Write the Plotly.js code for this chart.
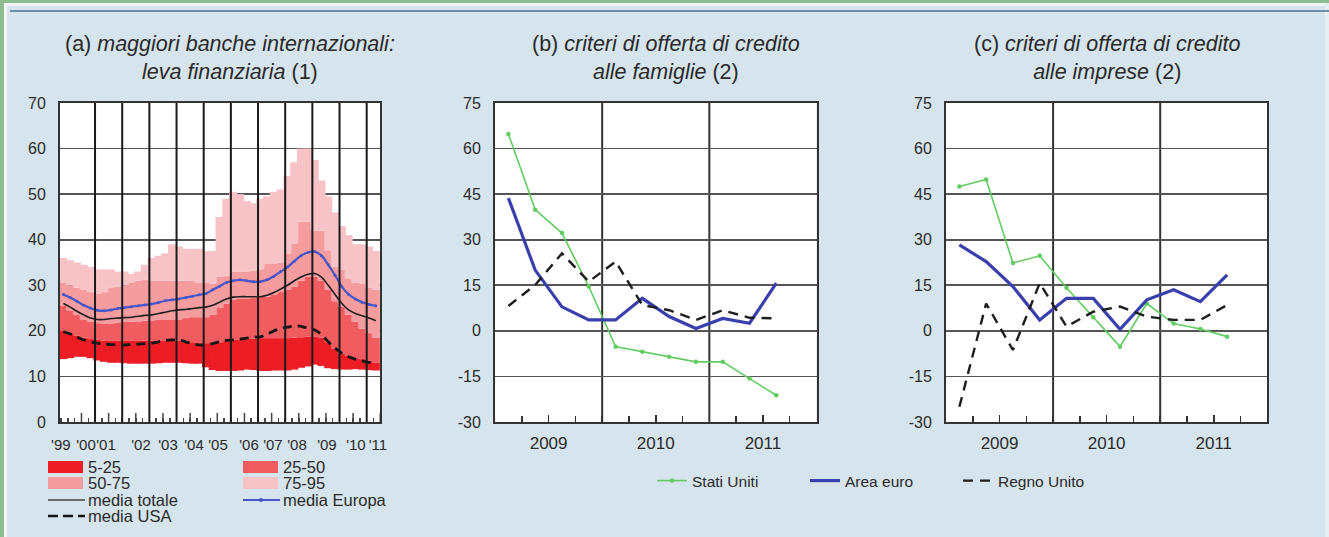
<!DOCTYPE html>
<html>
<head>
<meta charset="utf-8">
<script src="https://cdn.plot.ly/plotly-3.0.1.min.js"></script>
<style>
html,body{margin:0;padding:0;background:#d5e4ed;}
#chart{width:1329px;height:537px;}
</style>
</head>
<body>
<div id="chart"></div>
<script>
// ---------------- Panel (a): leva finanziaria, dati trimestrali ----------------
const etichetteAnni = ["'99","'00","'01","'02","'03","'04","'05","'06","'07","'08","'09","'10","'11"];
const perc5  = [13.8, 14,14.3,14.3,14, 13.5,13.2,13,13, 12.9,12.8,12.8,12.8, 12.8,12.9,13,13, 13,12.9,12.8,12.8, 12,11.4,11.2,11.2, 11.2,11.3,11.5,11.4, 11.2,11.2,11.3,11.3, 11.3,11.5,11.9,12.2, 12.6,12.3,11.8,11.6, 11.5,11.5,11.6,11.5, 11.4,11.3];
const perc25 = [20, 19.5,19,18.5,18.2, 18,17.8,17.8,17.8, 17.8,17.8,17.8,17.8, 17.8,17.8,17.8,17.8, 17.8,17.5,17.5,17.3, 17.3,17.3,17.5,17.8, 18,18,18.2,18.3, 18.4,18.4,18.4,18.4, 18.4,18.5,18.6,18.7, 18.7,18.5,17.5,16, 15,14.5,14,13.8, 13.5,13];
const perc50 = [25.5, 24.5,23.5,22.5,22, 21.7,21.5,21.5,21.8, 22,22,22,22.2, 22.3,22.5,22.5,22.5, 22.5,22.8,23,23, 23,23.5,25,26, 26.8,27,27,27.2, 27.5,27.5,28,28.5, 29,29.7,31,31.9, 31.9,31,29,26.5, 25.3,23.5,22,20.5, 19.5,18.5];
const perc75 = [30.5, 30,29.5,29,28.5, 28.2,28.5,29.5,29.7, 30,30.5,31,31.2, 31,31,31,31, 31,31,31,30.5, 30.5,30.4,31.9,32, 33,33,33,33.2, 33.5,34.8,34.8,35, 37,39.2,44,44, 42,42,37.7,34, 33.4,31.5,30.5,30.4, 29.5,29];
const perc95 = [36, 35.5,35,34.5,34, 33.5,33.5,33.5,33, 33,32.5,33,34.5, 36,36.5,37,39, 38.5,38,38,38, 37.5,37.5,45,49, 50.5,50,48.5,48, 49,49.5,50.5,51, 54,57,60,60, 57.5,53,49.5,46, 43,41,39,39, 38.5,37.5];
const mediaTotale = [26, 25.2,24.3,23.5,22.8, 22.5,22.5,22.7,22.8, 22.9,23,23.2,23.4, 23.5,23.8,24.1,24.4, 24.6,24.7,24.9,25.1, 25.2,25.6,26.3,27, 27.4,27.5,27.5,27.5, 27.5,27.8,28.4,29.2, 30,31,31.8,32.4, 32.6,31.8,30,28, 26,24.6,23.8,23.3, 22.8,22.2];
const mediaEuropa = [28, 27.3,26.5,25.6,25, 24.5,24.4,24.6,24.9, 25.1,25.3,25.5,25.7, 25.9,26.2,26.6,26.8, 27,27.3,27.6,27.9, 28.2,29,29.8,30.6, 31,31.2,31,30.8, 30.8,31.2,32,33, 34,35.3,36.5,37.2, 37.4,36.5,34.5,32.2, 29.7,28,27,26.3, 25.8,25.5];
const mediaUSA = [19.8, 19.3,18.6,18,17.6, 17.3,17.1,17,16.9, 16.9,17,17.1,17.2, 17.3,17.6,17.9,18, 18,17.6,17.2,16.9, 16.9,17.2,17.6,17.9, 18,18.2,18.4,18.6, 18.7,19.3,20,20.6, 20.8,21.1,21,20.6, 20.2,19.2,17.6,16.2, 15.1,14.3,13.8,13.4, 13.1,12.6];

// ---------------- Panels (b) and (c): criteri di offerta ----------------
const trimestri = ['2009 T1','2009 T2','2009 T3','2009 T4','2010 T1','2010 T2','2010 T3','2010 T4','2011 T1','2011 T2','2011 T3'];
const anniBC = ['2009','2010','2011'];
const famStatiUniti = [64.8, 39.9, 32.2, 14.6, -5.2, -6.9, -8.5, -10.2, -10.2, -15.7, -21.2];
const famAreaEuro   = [43.7, 20, 7.9, 3.6, 3.6, 10.7, 4.7, 0.8, 4.1, 2.5, 15.7];
const famRegnoUnito = [8.2, 15.1, 25.5, 16.2, 22.8, 8.5, 6.8, 3.6, 6.8, 4.3, 4.1];
const impStatiUniti = [47.5, 49.8, 22.3, 24.7, 14.2, 4.5, -5.2, 9.0, 2.4, 0.6, -1.9];
const impAreaEuro   = [28.3, 22.8, 14.6, 3.6, 10.7, 10.7, 0.5, 10.2, 13.5, 9.6, 18.4];
const impRegnoUnito = [-25, 9.0, -6.3, 15.7, 1.4, 6.3, 8.0, 4.7, 3.6, 3.6, 8.5];

// ---------------- layout helpers ----------------
const W = 1329, H = 537;
const px = v => v / W;           // pixel -> paper x
const py = v => 1 - v / H;       // pixel -> paper y
const FONT = 'Liberation Sans, Arial, sans-serif';
const TXT = '#2b2b2b';

// Panel (a) time positions (quarter centres on a year scale)
const xa = perc5.map((_, i) => 1998.835 + 0.25 * i);
const rangeA = [1998.71, 2010.49];
const posEtichetteA = [1998.74, 1999.667, 2000.403, 2001.691, 2002.685, 2003.642, 2004.525, 2005.666, 2006.549, 2007.433, 2008.537, 2009.604, 2010.414];
// Panels (b)/(c) quarter centres
const xq = trimestri.map(t => parseInt(t.slice(0,4)) + (parseInt(t.slice(6)) - 0.5) / 4);

const colBand = {b1:'#ec1d25', b2:'#f05c60', b3:'#f59c9f', b4:'#f8c3c6'};

function banda(nome, low, high, colore) {
  return {type:'bar', name:nome, x:xa, base:low, y:high.map((v,i)=>+(v-low[i]).toFixed(2)),
    width:0.3, marker:{color:colore, line:{width:0}}, xaxis:'x', yaxis:'y',
    showlegend:false, hoverinfo:'skip'};
}

const traces = [
  banda('5-25', perc5, perc25, colBand.b1),
  banda('25-50', perc25, perc50, colBand.b2),
  banda('50-75', perc50, perc75, colBand.b3),
  banda('75-95', perc75, perc95, colBand.b4),
  {type:'scatter', mode:'lines', name:'media totale', x:xa, y:mediaTotale, xaxis:'x', yaxis:'y',
   line:{color:'#1e1e1e', width:1.6, shape:'spline', smoothing:1}, showlegend:false},
  {type:'scatter', mode:'lines+markers', name:'media Europa', x:xa, y:mediaEuropa, xaxis:'x', yaxis:'y',
   line:{color:'#4656c8', width:2.2, shape:'spline', smoothing:1}, marker:{size:3, color:'#4656c8'}, showlegend:false},
  {type:'scatter', mode:'lines', name:'media USA', x:xa, y:mediaUSA, xaxis:'x', yaxis:'y',
   line:{color:'#151515', width:2.8, dash:'9px,6px', shape:'spline', smoothing:1}, showlegend:false},
  // panel b
  {type:'scatter', mode:'lines+markers', name:'Stati Uniti', legendgroup:'us', x:xq, y:famStatiUniti, xaxis:'x3', yaxis:'y3',
   line:{color:'#62cc62', width:1.6}, marker:{size:4.5, color:'#62cc62'}},
  {type:'scatter', mode:'lines', name:'Area euro', legendgroup:'ea', x:xq, y:famAreaEuro, xaxis:'x3', yaxis:'y3',
   line:{color:'#3a3fae', width:3.2}},
  {type:'scatter', mode:'lines', name:'Regno Unito', legendgroup:'uk', x:xq, y:famRegnoUnito, xaxis:'x3', yaxis:'y3',
   line:{color:'#1e1e1e', width:2.4, dash:'10px,7px'}},
  // panel c
  {type:'scatter', mode:'lines+markers', name:'Stati Uniti', legendgroup:'us', showlegend:false, x:xq, y:impStatiUniti, xaxis:'x4', yaxis:'y5',
   line:{color:'#62cc62', width:1.6}, marker:{size:4.5, color:'#62cc62'}},
  {type:'scatter', mode:'lines', name:'Area euro', legendgroup:'ea', showlegend:false, x:xq, y:impAreaEuro, xaxis:'x4', yaxis:'y5',
   line:{color:'#3a3fae', width:3.2}},
  {type:'scatter', mode:'lines', name:'Regno Unito', legendgroup:'uk', showlegend:false, x:xq, y:impRegnoUnito, xaxis:'x4', yaxis:'y5',
   line:{color:'#1e1e1e', width:2.4, dash:'10px,7px'}}
];

const yDom = [py(422), py(103)];
const tickFontY = {family:FONT, size:16, color:TXT};
// tick values with a plain hyphen as minus sign
function tickSet(range, dtick) {
  const v = [];
  for (let t = range[0]; t <= range[1] + 1e-9; t += dtick) v.push(t);
  return {tickmode:'array', tickvals:v, ticktext:v.map(t => String(t))};
}

function yLeft(range, dtick, extra) {
  return Object.assign({domain:yDom, range:range}, tickSet(range, dtick), {
    showgrid:true, gridcolor:'#555', gridwidth:1.8, zeroline:false, showline:true, mirror:true,
    linecolor:'#333', linewidth:2, ticks:'', tickfont:tickFontY, ticklabelstandoff:9, fixedrange:true}, extra||{});
}
function yRight(over, anchor, range, dtick, standoff) {
  return Object.assign({overlaying:over, anchor:anchor, side:'right', range:range}, tickSet(range, dtick), {
    showgrid:false, zeroline:false, showline:false, ticks:'', tickfont:tickFontY, ticklabelstandoff:standoff, fixedrange:true});
}
function xBC(domain, anchor) {
  return {domain:domain, anchor:anchor, range:[2009, 2012], tickmode:'array',
    tickvals:anniBC.map(a => +a + 0.5), ticktext:anniBC, ticks:'inside', ticklen:7, tickwidth:1.5, tickcolor:'#333',
    minor:{tickmode:'linear', tick0:2009, dtick:0.25, ticks:'inside', ticklen:6, tickwidth:1.5, tickcolor:'#333', showgrid:false},
    showgrid:false, zeroline:false, showline:true, mirror:true, linecolor:'#333', linewidth:2, tickangle:0,
    tickfont:{family:FONT, size:17, color:TXT}, ticklabelstandoff:5, fixedrange:true};
}

const shapes = [];
// decorative frame
shapes.push({type:'rect', xref:'paper', yref:'paper', x0:0, x1:1, y0:py(3), y1:1, fillcolor:'#8cbd8f', line:{width:0}, layer:'below'});
shapes.push({type:'rect', xref:'paper', yref:'paper', x0:0, x1:px(4), y0:0, y1:1, fillcolor:'#8cbd8f', line:{width:0}, layer:'below'});
shapes.push({type:'rect', xref:'paper', yref:'paper', x0:px(4), x1:px(7), y0:0, y1:py(3), fillcolor:'#f2f6f8', line:{width:0}, layer:'below'});
shapes.push({type:'rect', xref:'paper', yref:'paper', x0:px(4), x1:1, y0:py(6), y1:py(3), fillcolor:'#eef3f6', line:{width:0}, layer:'below'});
shapes.push({type:'rect', xref:'paper', yref:'paper', x0:px(1325), x1:1, y0:0, y1:py(3), fillcolor:'#e6eef3', line:{width:0}, layer:'below'});
shapes.push({type:'line', xref:'paper', yref:'paper', x0:px(10), x1:1, y0:py(11), y1:py(11), line:{color:'#6f8eab', width:2}, layer:'below'});

// vertical year lines of panel (a), drawn over the bands
for (let a = 2000; a <= 2010; a++) {
  shapes.push({type:'line', xref:'x', yref:'y domain', x0:a, x1:a, y0:0, y1:1, line:{color:'#1a1a1a', width:2}, layer:'above'});
}
// taller half-year ticks at the bottom of panel (a)
for (let a = 1999; a <= 2010; a++) {
  shapes.push({type:'line', xref:'x', yref:'y', x0:a + 0.5, x1:a + 0.5, y0:0, y1:2, line:{color:'#444', width:1.5}, layer:'above'});
}
// vertical year lines of panels (b) and (c)
[['x3','y3'],['x4','y5']].forEach(([xr, yr]) => {
  [2010, 2011].forEach(a => shapes.push({type:'line', xref:xr, yref:yr+' domain', x0:a, x1:a, y0:0, y1:1, line:{color:'#333', width:2}, layer:'below'}));
});

// manual legend of panel (a)
const annotations = [];
const legA = [
  {t:'5-25', kind:'rect', col:colBand.b1, x:48, y:467},
  {t:'25-50', kind:'rect', col:colBand.b2, x:243, y:467},
  {t:'50-75', kind:'rect', col:colBand.b3, x:48, y:483},
  {t:'75-95', kind:'rect', col:colBand.b4, x:243, y:483},
  {t:'media totale', kind:'line', col:'#6a6a6a', x:48, y:500},
  {t:'media Europa', kind:'lineMarker', col:'#4656c8', x:243, y:500},
  {t:'media USA', kind:'dash', col:'#151515', x:48, y:516}
];
legA.forEach(e => {
  if (e.kind === 'rect') {
    shapes.push({type:'rect', xref:'paper', yref:'paper', x0:px(e.x), x1:px(e.x+35), y0:py(e.y+6), y1:py(e.y-6), fillcolor:e.col, line:{width:0}});
  } else {
    shapes.push({type:'line', xref:'paper', yref:'paper', x0:px(e.x), x1:px(e.x+37), y0:py(e.y), y1:py(e.y),
      line:{color:e.col, width:e.kind==='dash'?2.4:2, dash:e.kind==='dash'?'10px,5px':'solid'}});
    if (e.kind === 'lineMarker') {
      shapes.push({type:'circle', xref:'paper', yref:'paper', x0:px(e.x+16), x1:px(e.x+20), y0:py(e.y+2), y1:py(e.y-2), fillcolor:e.col, line:{width:0}});
    }
  }
  annotations.push({xref:'paper', yref:'paper', x:px(e.x+38), y:py(e.y), xanchor:'left', yanchor:'middle', showarrow:false,
    text:e.t, font:{family:FONT, size:16.5, color:TXT}});
});

// panel titles
const titoli = [
  {x:230, text:'(a) <i>maggiori banche internazionali:</i><br><i>leva finanziaria</i> (1)'},
  {x:666, text:'(b) <i>criteri di offerta di credito</i><br><i>alle famiglie</i> (2)'},
  {x:1107, text:'(c) <i>criteri di offerta di credito</i><br><i>alle imprese</i> (2)'}
];
titoli.forEach(t => annotations.push({xref:'paper', yref:'paper', x:px(t.x), y:py(57.5), xanchor:'center', yanchor:'middle',
  showarrow:false, text:t.text, align:'center', font:{family:FONT, size:21.5, color:'#2a2a2a'}}));

const layout = {
  width:W, height:H, margin:{l:0, r:0, t:0, b:0},
  paper_bgcolor:'#d5e4ed', plot_bgcolor:'#ffffff',
  barmode:'overlay', showlegend:true,
  legend:{orientation:'h', x:px(652), xanchor:'left', y:py(481), yanchor:'middle', bgcolor:'rgba(0,0,0,0)',
    font:{family:FONT, size:15.5, color:TXT}, entrywidth:108, itemwidth:30, traceorder:'normal'},
  xaxis:{domain:[px(60), px(380)], anchor:'y', range:rangeA, tickmode:'array', tickvals:posEtichetteA, ticktext:etichetteAnni,
    ticks:'', tickangle:0, tickfont:{family:FONT, size:15, color:TXT}, ticklabelstandoff:8,
    minor:{tickmode:'linear', tick0:2000, dtick:0.25, ticks:'inside', ticklen:4, tickwidth:1.5, tickcolor:'#444', showgrid:false},
    showgrid:false, zeroline:false, showline:true, mirror:true, linecolor:'#333', linewidth:2, fixedrange:true},
  yaxis:yLeft([0,70], 10, {anchor:'x'}),
  yaxis2:yRight('y', 'x', [0,70], 10, 11),
  xaxis3:xBC([px(495), px(816.5)], 'y3'),
  yaxis3:yLeft([-30,75], 15, {anchor:'x3'}),
  yaxis4:yRight('y3', 'x3', [-30,75], 15, 16),
  xaxis4:xBC([px(946), px(1267.3)], 'y5'),
  yaxis5:yLeft([-30,75], 15, {anchor:'x4'}),
  yaxis6:yRight('y5', 'x4', [-30,75], 15, 19),
  shapes:shapes,
  annotations:annotations
};

Plotly.newPlot('chart', traces, layout, {staticPlot:true, displayModeBar:false});
</script>
</body>
</html>
